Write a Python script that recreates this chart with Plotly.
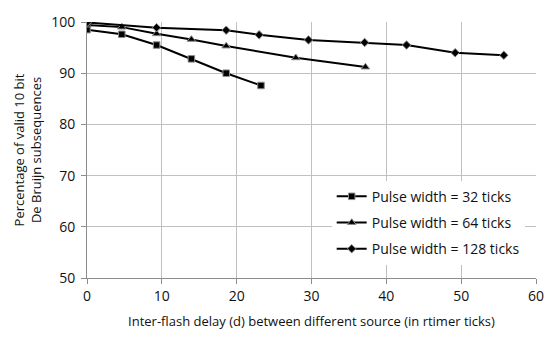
import plotly.graph_objects as go

x32 = [0, 4.65, 9.3, 13.95, 18.6, 23.25]
y32 = [98.5, 97.6, 95.5, 92.8, 90.0, 87.6]

x64 = [0, 4.65, 9.3, 13.95, 18.6, 27.9, 37.2]
y64 = [99.4, 99.0, 97.7, 96.6, 95.3, 93.0, 91.2]

x128 = [0, 9.3, 18.6, 23.0, 29.6, 37.1, 42.7, 49.2, 55.7]
y128 = [99.9, 98.9, 98.4, 97.5, 96.5, 96.0, 95.5, 94.0, 93.5]

names = ["Pulse width = 32 ticks", "Pulse width = 64 ticks", "Pulse width = 128 ticks"]
FONT = "Open Sans"
TXT = "#111"

fig = go.Figure()
fig.add_trace(go.Scatter(x=x32, y=y32, name=names[0], mode="lines+markers", legendgroup="a",
                         line=dict(color="black", width=2),
                         marker=dict(symbol="square", size=6.5, color="black",
                                     line=dict(color="#8c8c8c", width=1))))
fig.add_trace(go.Scatter(x=x64, y=y64, name=names[1], mode="lines+markers", legendgroup="b",
                         line=dict(color="black", width=2),
                         marker=dict(symbol="triangle-up", size=7.5, color="black",
                                     line=dict(color="#8c8c8c", width=1))))
fig.add_trace(go.Scatter(x=x128, y=y128, name=names[2], mode="lines+markers", legendgroup="c",
                         line=dict(color="black", width=2),
                         marker=dict(symbol="diamond", size=6.5, color="black",
                                     line=dict(color="#8c8c8c", width=1))))

fig.update_layout(
    width=556, height=339,
    margin=dict(l=87, r=16, t=14, b=61),
    paper_bgcolor="white", plot_bgcolor="white",
    font=dict(family=FONT, size=13, color=TXT),
    showlegend=True,
    legend=dict(x=0.545, y=0.38, xanchor="left", yanchor="top",
                bgcolor="white", font=dict(family=FONT, size=14, color=TXT),
                itemwidth=30, tracegroupgap=5),
)
fig.update_xaxes(range=[0, 60], tickvals=[0, 10, 20, 30, 40, 50, 60],
                 showgrid=True, gridcolor="#c0c0c0", gridwidth=1,
                 showline=True, linecolor="#8c8c8c", linewidth=1,
                 ticks="outside", ticklen=5, tickcolor="#8c8c8c",
                 tickfont=dict(family=FONT, size=14, color=TXT),
                 zeroline=False,
                 title=dict(text="Inter-flash delay (d) between different source (in rtimer ticks)",
                            font=dict(family=FONT, size=13, color=TXT), standoff=13))
fig.update_yaxes(range=[50, 100], tickvals=[50, 60, 70, 80, 90, 100],
                 showgrid=True, gridcolor="#c0c0c0", gridwidth=1,
                 showline=True, linecolor="#8c8c8c", linewidth=1,
                 ticks="outside", ticklen=5, tickcolor="#8c8c8c",
                 tickfont=dict(family=FONT, size=14, color=TXT),
                 zeroline=False, ticklabelstandoff=3,
                 title=dict(text="Percentage of valid 10 bit<br>De Bruijn subsequences",
                            font=dict(family=FONT, size=13, color=TXT), standoff=6))

fig.write_html("out.html")
